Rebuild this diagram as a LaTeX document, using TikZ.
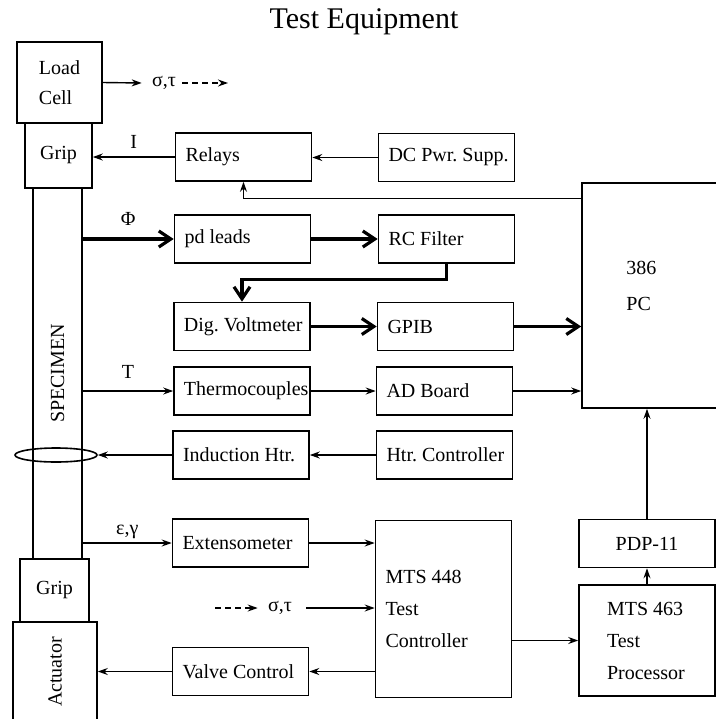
\documentclass[tikz,border=0pt]{standalone}
\usepackage{fontspec}
\setmainfont{Liberation Serif}
\frenchspacing
\usetikzlibrary{arrows.meta,shapes.geometric}

\begin{document}
\begin{tikzpicture}[x=0.5pt,y=-0.5pt,
  blk/.style={draw,line width=0.8pt,minimum height=24pt,text width=58pt,inner xsep=5pt,inner ysep=0pt,align=flush left,font=\fontsize{10}{16}\selectfont},
  part/.style={draw,line width=0.8pt,inner sep=0pt,font=\fontsize{10}{15}\selectfont},
  sig/.style={line width=0.7pt,-{Stealth[length=5pt,width=3.5pt]}},
  bus/.style={line width=1.6pt,-{Straight Barb[length=6pt,width=8pt,line width=1.6pt]}},
  lbl/.style={font=\fontsize{10}{12}\selectfont,inner sep=1pt}]
  \useasboundingbox (0,0) rectangle (716,719);

  % Title
  \node[font=\fontsize{15}{18}\selectfont] (title) at (364,22) {Test Equipment};

  % Specimen column
  \node[part,minimum width=42.5pt,minimum height=40.5pt,align=left] (loadcell) at (59.5,82.5) {Load\\Cell};
  \node[part,minimum width=33.5pt,minimum height=32.5pt] (griptop) at (58.5,155.5) {Grip};
  \node[part,minimum width=24.5pt,minimum height=185.5pt] (specimen) at (57.5,373.5) {\rotatebox{90}{SPECIMEN}};
  \node[part,minimum width=34.5pt,minimum height=31.5pt] (gripbot) at (54.5,590.5) {Grip};
  \node[part,minimum width=42pt,minimum height=50pt] (actuator) at (55,672) {\rotatebox{90}{Actuator}};
  \node[draw,ellipse,line width=0.8pt,inner sep=0pt,minimum width=41pt,minimum height=7pt] (coil) at (56,455) {};

  % Instrument boxes
  \node[blk] (relays) at (243.5,157) {Relays};
  \node[blk] (dcps) at (446.5,157.5) {\mbox{DC Pwr. Supp.}};
  \node[blk] (pdleads) at (242.5,239) {pd leads};
  \node[blk] (rcfilter) at (446.5,239) {RC Filter};
  \node[blk] (dvm) at (242,326.5) {\mbox{Dig. Voltmeter}};
  \node[blk] (gpib) at (445.5,326.5) {GPIB};
  \node[blk] (thermo) at (242,391) {\mbox{Thermocouples}};
  \node[blk] (adboard) at (444.5,391) {AD Board};
  \node[blk] (indhtr) at (241,455) {\mbox{Induction Htr.}};
  \node[blk] (htrctrl) at (444.5,455) {\mbox{Htr. Controller}};
  \node[blk] (extenso) at (240.5,543) {\mbox{Extensometer}};
  \node[blk] (valve) at (240.5,671.5) {\mbox{Valve Control}};
  \node[blk,minimum height=88.5pt] (mts448) at (443.5,609) {MTS 448\\Test\\Controller};

  % Computers
  \node[draw,line width=0.8pt,minimum width=70pt,minimum height=112.5pt] (pc) at (652,295.5) {};
  \node[lbl,anchor=west,align=left,font=\fontsize{10}{18}\selectfont] (pctext) at (624,286) {386\\PC};
  \node[blk,align=center] (pdp) at (647,543.5) {PDP-11};
  \node[blk,minimum height=55.5pt,inner xsep=14pt,text width=40pt] (mts463) at (647,640.5) {MTS 463\\Test\\Processor};

  % Load cell output
  \node[lbl] (sigtop) at (164,83) {σ,τ};
  \coordinate (sigout) at (228,83);
  \draw[sig] (loadcell.east) -- ([xshift=-4pt]sigtop.west);
  \draw[sig,dash pattern=on 3pt off 2pt] ([xshift=2pt]sigtop.east) -- (sigout);

  % Power to grip
  \draw[sig] (dcps.west) -- (dcps.west -| relays.east);
  \draw[sig] (relays.west) -- (relays.west -| griptop.east) node[lbl,midway,above=3pt] {I};
  \draw[sig] ([yshift=-8pt]pc.north west) -| (relays.south);

  % Potential drop chain
  \draw[bus] (specimen.east |- pdleads.west) -- (pdleads.west) node[lbl,midway,above=5pt] {Φ};
  \draw[bus] (pdleads.east) -- (rcfilter.west);
  \draw[bus] (rcfilter.south) -- ++(0,16) -| (dvm.north);
  \draw[bus] (dvm.east) -- (gpib.west);
  \draw[bus] (gpib.east) -- (gpib.east -| pc.west);

  % Temperature and heating
  \draw[sig] (specimen.east |- thermo.west) -- (thermo.west) node[lbl,midway,above=5pt] {T};
  \draw[sig] (thermo.east) -- (adboard.west);
  \draw[sig] (adboard.east) -- (adboard.east -| pc.west);
  \draw[sig] (htrctrl.west) -- (indhtr.east);
  \draw[sig] (indhtr.west) -- (coil.east);

  % Strain and load control
  \draw[sig] (specimen.east |- extenso.west) -- (extenso.west) node[lbl,midway,above=1pt] {ε,γ};
  \draw[sig] (extenso.east) -- (extenso.east -| mts448.west);
  \node[lbl] (sigbot) at (280,608) {σ,τ};
  \coordinate (sigin) at (215,608);
  \draw[sig,dash pattern=on 3pt off 2pt] (sigin) -- ([xshift=-4pt]sigbot.west);
  \draw[sig] ([xshift=6pt]sigbot.east) -- (sigbot.east -| mts448.west);
  \draw[sig] (mts448.west |- valve.east) -- (valve.east);
  \draw[sig] (valve.west) -- (valve.west -| actuator.east);
  \draw[sig] (mts448.east |- mts463.west) -- (mts463.west);
  \draw[sig] (mts463.north) -- (pdp.south);
  \draw[sig] (pdp.north) -- (pdp.north |- pc.south);
\end{tikzpicture}
\end{document}
